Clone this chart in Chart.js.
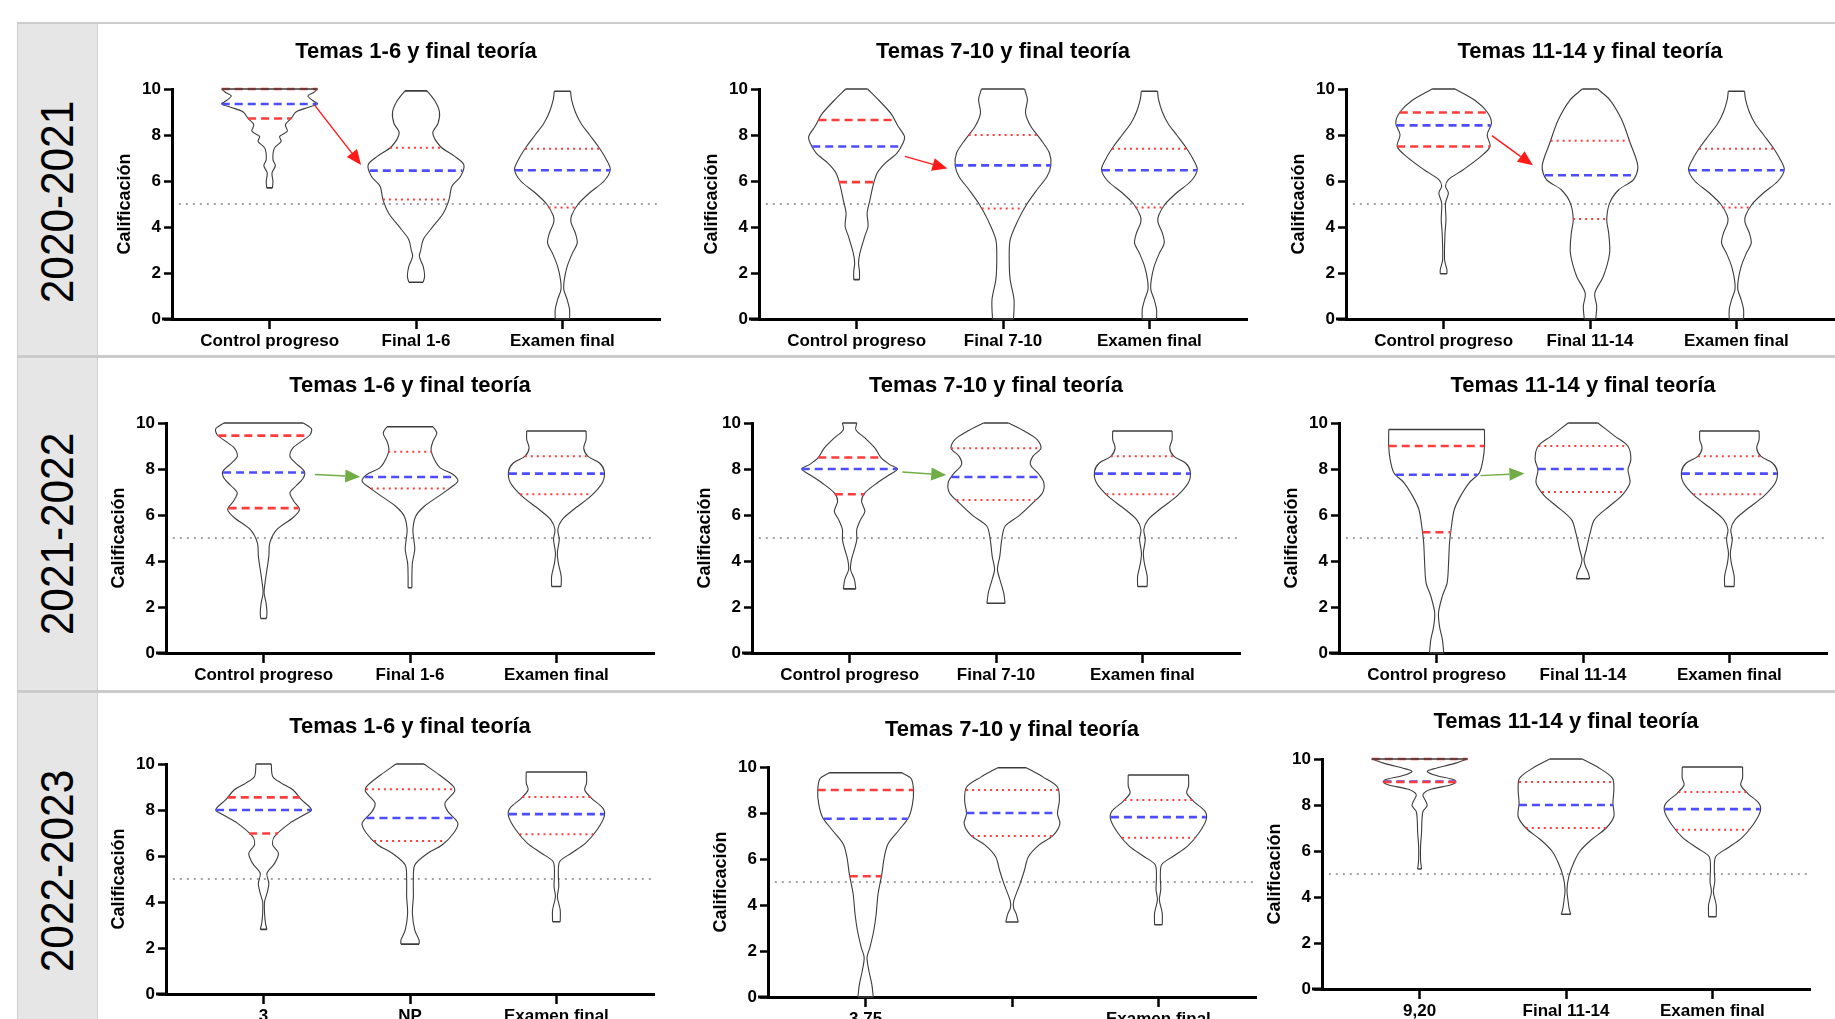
<!DOCTYPE html>
<html lang="es">
<head>
<meta charset="utf-8">
<title>Calificaciones por curso</title>
<script src="https://cdn.jsdelivr.net/npm/chart.js@4.4.1/dist/chart.umd.min.js"></script>
<style>
html,body{margin:0;padding:0;background:#fff;}
body{width:1835px;height:1019px;overflow:hidden;position:relative;font-family:'Liberation Sans',Arial,Helvetica,sans-serif;}
.hline{position:absolute;left:17px;width:1818px;background:#cbcbcb;}
.cell{position:absolute;left:17px;width:81px;background:#e6e6e6;border-left:1px solid #cfcfcf;border-right:1px solid #d2d2d2;box-sizing:border-box;}
.rowlab{position:absolute;left:57px;font-size:46px;color:#000;white-space:nowrap;line-height:1;transform:translate(-50%,-50%) rotate(-90deg) scaleX(0.92);}
canvas{position:absolute;}
</style>
</head>
<body>
<script>
// ---------------- DATA ----------------
const rowLabels = ['2020-2021', '2021-2022', '2022-2023'];
const themeTitles = ['Temas 1-6 y final teoría', 'Temas 7-10 y final teoría', 'Temas 11-14 y final teoría'];
const cats20 = [['Control progreso', 'Final 1-6', 'Examen final'], ['Control progreso', 'Final 7-10', 'Examen final'], ['Control progreso', 'Final 11-14', 'Examen final']];
const cats21 = [['Control progreso', 'Final 1-6', 'Examen final'], ['Control progreso', 'Final 7-10', 'Examen final'], ['Control progreso', 'Final 11-14', 'Examen final']];
const cats22 = [['3', 'NP', 'Examen final'], ['3,75', '', 'Examen final'], ['9,20', 'Final 11-14', 'Examen final']];
const yTicks = [0, 2, 4, 6, 8, 10];
const passMark = 5;
const yAxisTitle = 'Calificación';

// violin profiles: [grade, relative density width]
const y20_c16 = [[5.7,.06],[5.98,.07],[6.35,.05],[6.67,.12],[6.93,.07],[7.43,.1],[7.72,.24],[7.94,.21],[8.16,.37],[8.45,.33],[8.72,.45],[9.0,.55],[9.2,.8],[9.35,1.0],[9.5,.9],[9.7,.8],[9.85,.92],[10,1.0]];
const y20_f16 = [[1.6,.15],[1.86,.18],[2.29,.15],[2.72,.07],[3.0,.1],[3.45,.15],[3.88,.3],[4.6,.57],[5.19,.69],[5.77,.75],[6.2,.93],[6.7,1.0],[7.07,.81],[7.5,.51],[8.09,.35],[8.5,.46],[9.0,.49],[9.5,.39],[9.92,.23]];
const y20_c710 = [[1.71,.06],[2.07,.06],[2.43,.04],[2.87,.07],[3.59,.17],[4.03,.24],[4.61,.22],[5.19,.28],[5.77,.34],[6.35,.43],[6.78,.6],[7.2,.84],[7.65,.97],[7.94,1.0],[8.4,.86],[8.9,.73],[9.5,.47],[10,.23]];
const y20_f710 = [[0,.22],[.84,.23],[1.71,.15],[2.58,.13],[3.45,.15],[4.32,.32],[4.97,.49],[5.62,.71],[6.2,.92],[6.68,1.0],[7.22,.97],[7.8,.79],[8.38,.58],[8.96,.47],[9.54,.51],[10,.45]];
const y20_c1114 = [[1.97,.07],[2.14,.07],[2.58,.02],[3.74,.03],[4.32,.05],[5.04,.04],[5.48,.1],[5.77,.04],[6.06,.1],[6.49,.41],[7.07,.78],[7.5,.97],[8.01,.91],[8.52,1.0],[9.0,.91],[9.5,.66],[10,.24]];
const y20_f1114 = [[0,.12],[.55,.14],[1.13,.1],[1.86,.28],[2.87,.41],[3.74,.39],[4.32,.35],[5.04,.41],[5.62,.6],[6.06,.91],[6.64,1.0],[7.65,.84],[8.67,.66],[9.54,.41],[10,.16]];
const y20_exam = [[0,.15],[.41,.15],[.84,.1],[1.28,.03],[1.71,.04],[2.29,.1],[2.87,.21],[3.3,.31],[3.74,.27],[4.2,.18],[4.49,.19],[5.0,.33],[5.49,.57],[6.0,.87],[6.5,1.0],[7.0,.9],[7.5,.75],[8.0,.57],[8.5,.39],[9.0,.27],[9.55,.19],[9.9,.17]];

const y21_c16 = [[1.5,.06],[1.75,.07],[2.19,.05],[2.62,.01],[3.05,.03],[3.63,.07],[4.21,.11],[4.79,.13],[5.37,.28],[5.88,.61],[6.24,.75],[6.6,.63],[6.96,.55],[7.25,.67],[7.61,.83],[7.9,.85],[8.26,.67],[8.55,.55],[8.91,.61],[9.2,.79],[9.49,.97],[9.75,1.0],[10,.83]];
const y21_f16 = [[2.84,.04],[3.34,.04],[3.92,.05],[4.5,.1],[4.93,.08],[5.37,.06],[5.95,.12],[6.38,.3],[6.82,.6],[7.18,.84],[7.47,1.0],[7.76,.9],[8.05,.63],[8.41,.51],[8.84,.44],[9.2,.48],[9.57,.56],[9.84,.48]];
const y21_c710 = [[2.79,.13],[3.2,.1],[3.63,.02],[4.07,.04],[4.5,.1],[4.93,.15],[5.37,.15],[5.8,.23],[6.16,.32],[6.6,.25],[6.96,.32],[7.4,.58],[7.76,.84],[8.0,1.0],[8.19,.84],[8.48,.66],[8.91,.53],[9.35,.32],[9.71,.13],[10,.15]];
const y21_f710 = [[2.16,.19],[2.62,.16],[3.2,.08],[3.63,.03],[4.21,.08],[4.93,.12],[5.51,.19],[5.95,.47],[6.53,.77],[6.96,.97],[7.4,1.0],[7.76,.9],[8.19,.72],[8.55,.77],[8.91,.94],[9.28,.86],[9.64,.6],[10,.26]];
const y21_c1114 = [[0,.15],[.59,.12],[1.17,.06],[1.75,.04],[2.47,.12],[3.05,.22],[3.92,.25],[4.79,.27],[5.51,.31],[6.24,.37],[6.82,.5],[7.4,.68],[7.83,.89],[8.41,.97],[9.0,1.0],[9.72,1.0]];
const y21_f1114 = [[3.23,.14],[3.49,.11],[3.78,.05],[4.07,.02],[4.5,.07],[5.22,.15],[5.8,.24],[6.38,.55],[6.82,.8],[7.4,.98],[7.97,.94],[8.41,1.0],[8.99,.94],[9.42,.67],[10,.31]];
const y21_exam = [[2.89,.1],[3.34,.1],[3.92,.04],[4.36,.02],[4.93,.06],[5.37,.03],[5.8,.12],[6.24,.36],[6.82,.72],[7.4,.96],[7.9,1.0],[8.26,.9],[8.55,.66],[8.91,.57],[9.28,.62],[9.65,.62]];

const y22_c16 = [[2.81,.07],[3.07,.04],[3.5,.02],[4.01,.02],[4.37,.07],[4.8,.11],[5.25,.07],[5.68,.23],[6.12,.31],[6.48,.19],[6.85,.23],[7.43,.55],[7.79,.85],[8.01,1.0],[8.45,.79],[8.88,.61],[9.17,.37],[9.46,.19],[10,.16]];
const y22_f16 = [[2.17,.19],[2.34,.19],[2.78,.1],[3.5,.05],[4.23,.07],[4.96,.07],[5.61,.1],[6.12,.37],[6.48,.67],[6.99,.91],[7.43,1.0],[7.94,.79],[8.3,.73],[8.8,.93],[9.02,.91],[9.53,.61],[10,.29]];
const y22_c710 = [[0,.16],[.55,.13],[1.13,.07],[1.72,.03],[2.15,.09],[2.88,.17],[3.6,.22],[4.48,.26],[5.35,.34],[6.08,.39],[6.66,.47],[7.24,.69],[7.82,.9],[8.4,.98],[9.0,1.0],[9.5,.95],[9.75,.76]];
const y22_f710 = [[3.26,.13],[3.6,.09],[3.9,.03],[4.2,.04],[4.93,.17],[5.51,.26],[6.09,.34],[6.6,.56],[7.03,.86],[7.53,1.0],[7.97,.95],[8.55,.99],[9.13,.95],[9.56,.65],[9.97,.3]];
const y22_c1114 = [[5.22,.04],[5.62,.02],[6.2,.02],[6.78,.04],[7.36,.05],[7.72,.07],[7.97,.16],[8.2,.12],[8.45,.07],[8.67,.22],[8.88,.66],[9.0,.76],[9.1,.72],[9.28,.35],[9.46,.16],[9.57,.29],[9.8,.72],[10,1.0]];
const y22_f1114 = [[3.25,.1],[3.45,.07],[3.88,.04],[4.32,.02],[4.9,.06],[5.48,.16],[5.99,.29],[6.49,.53],[7.0,.84],[7.5,1.0],[8.09,.98],[8.67,1.0],[9.17,.97],[9.65,.66],[10,.34]];
const y22_exam = [[3.14,.08],[3.65,.08],[4.23,.02],[4.67,.05],[5.25,.04],[5.76,.07],[6.12,.31],[6.56,.61],[7.14,.85],[7.72,1.0],[8.08,.97],[8.52,.73],[8.88,.59],[9.17,.63],[9.65,.63]];

// medians and quartiles [panel][violin]
const median20 = [[9.35, 6.45, 6.47], [7.5, 6.68, 6.47], [8.42, 6.25, 6.47]];
const lowQ20   = [[8.72, 5.2, 4.85], [5.95, 4.8, 4.85], [7.5, 4.35, 4.85]];
const highQ20  = [[10, 7.45, 7.4], [8.65, 8.0, 7.4], [8.98, 7.75, 7.4]];
const median21 = [[7.85, 7.65, 7.8], [8.0, 7.65, 7.8], [7.75, 8.0, 7.8]];
const lowQ21   = [[6.3, 7.15, 6.9], [6.9, 6.65, 6.9], [5.25, 7.0, 6.9]];
const highQ21  = [[9.45, 8.75, 8.55], [8.5, 8.9, 8.55], [9.0, 9.0, 8.55]];
const median22 = [[8.0, 7.65, 7.82], [7.75, 8.0, 7.82], [9.02, 8.0, 7.82]];
const lowQ22   = [[6.98, 6.65, 6.95], [5.25, 7.0, 6.92], [9.0, 7.0, 6.92]];
const highQ22  = [[8.55, 8.9, 8.57], [9.0, 9.0, 8.57], [10, 9.0, 8.57]];

// arrows (data units: x1, y1, x2, y2)
const arrows20 = [[1.31, 9.28, 1.625, 6.7], [1.33, 7.07, 1.62, 6.54], [1.33, 7.97, 1.61, 6.68]];
const arrows21 = [[1.35, 7.76, 1.66, 7.66], [1.36, 7.87, 1.66, 7.74], [1.30, 7.71, 1.60, 7.80]];
const arrows22 = [null, null, null];

// ---------------- ASSEMBLY ----------------
const rows = [
  {cats: cats20, med: median20, lo: lowQ20, hi: highQ20, arrows: arrows20, arrowColor: '#ff1a1a',
   violins: [[y20_c16, y20_f16, y20_exam], [y20_c710, y20_f710, y20_exam], [y20_c1114, y20_f1114, y20_exam]]},
  {cats: cats21, med: median21, lo: lowQ21, hi: highQ21, arrows: arrows21, arrowColor: '#70ad47',
   violins: [[y21_c16, y21_f16, y21_exam], [y21_c710, y21_f710, y21_exam], [y21_c1114, y21_f1114, y21_exam]]},
  {cats: cats22, med: median22, lo: lowQ22, hi: highQ22, arrows: arrows22, arrowColor: '#70ad47',
   violins: [[y22_c16, y22_f16, y22_exam], [y22_c710, y22_f710, y22_exam], [y22_c1114, y22_f1114, y22_exam]]}
];

// layout (pixels)
const axisX = [[172, 759, 1346], [166, 752, 1339], [166, 768, 1322]];
const plotTop = [[89, 89, 89], [423, 423, 423], [764, 767, 759]];
const PLOT_W = 488, PLOT_H = 230, AX_W = 75, PAD_R = 75, TITLE_H = 54, XAX_H = 45;
const MAXW = 0.327, X_MIN = 1 / 3, X_MAX = 3 + 2 / 3, PASS_START = 0.38;
const C_OUT = '#3c3c3c', C_MED = '#4d4dff', C_Q = '#ff3c3c', C_PASS = '#a3a3a3';

// table background
function addDiv(cls, style, text) {
  const d = document.createElement('div');
  d.className = cls;
  Object.assign(d.style, style);
  if (text) d.textContent = text;
  document.body.appendChild(d);
}
addDiv('cell', {top: '24px', height: '331px'});
addDiv('cell', {top: '358px', height: '332px'});
addDiv('cell', {top: '693px', height: '326px'});
addDiv('hline', {top: '22px', height: '2px'});
addDiv('hline', {top: '355px', height: '3px'});
addDiv('hline', {top: '690px', height: '3px'});
const labelCenters = [202, 534, 871];
rowLabels.forEach((t, i) => addDiv('rowlab', {top: labelCenters[i] + 'px'}, t));

Chart.defaults.font.family = "'Liberation Sans', Arial, Helvetica, sans-serif";
Chart.defaults.color = '#000';

function hwAt(prof, g) {
  if (g <= prof[0][0]) return prof[0][1];
  for (let i = 1; i < prof.length; i++) {
    if (g <= prof[i][0]) {
      const [g0, w0] = prof[i - 1], [g1, w1] = prof[i];
      return w0 + (w1 - w0) * (g - g0) / (g1 - g0);
    }
  }
  return prof[prof.length - 1][1];
}
function seg(c, g, hw, color, dash, width, order) {
  return {data: [{x: c - hw * MAXW, y: g}, {x: c + hw * MAXW, y: g}], borderColor: color, borderDash: dash,
    borderWidth: width, borderCapStyle: 'butt', pointRadius: 0, tension: 0, fill: false, order: order, clip: 6};
}
function violinSets(prof, c, med, lo, hi, dashedQ) {
  const base = {borderColor: C_OUT, borderWidth: 1.1, pointRadius: 0, fill: false, order: 3, clip: 6};
  const top = prof[prof.length - 1], bot = prof[0];
  const qDash = dashedQ ? [8, 5] : [2, 4];
  const qW = dashedQ ? 2.6 : 2;
  return [
    Object.assign({}, base, {tension: 0.3, data: prof.map(p => ({x: c + p[1] * MAXW, y: p[0]}))}),
    Object.assign({}, base, {tension: 0.3, data: prof.map(p => ({x: c - p[1] * MAXW, y: p[0]}))}),
    Object.assign({}, base, {tension: 0, spanGaps: false, borderWidth: 1.6, order: 0, data: [
      {x: c - top[1] * MAXW, y: top[0]}, {x: c + top[1] * MAXW, y: top[0]}, {x: c, y: null},
      {x: c - bot[1] * MAXW, y: bot[0]}, {x: c + bot[1] * MAXW, y: bot[0]}]}),
    seg(c, med, hwAt(prof, med), C_MED, [8, 5], 2.6, 2),
    seg(c, lo, hwAt(prof, lo), C_Q, qDash, qW, 1),
    seg(c, hi, hwAt(prof, hi), C_Q, qDash, qW, 1)
  ];
}
function arrowPlugin(a, color) {
  return {
    id: 'arrowDraw',
    afterDatasetsDraw(chart) {
      if (!a) return;
      const xs = chart.scales.x, ys = chart.scales.y, ctx = chart.ctx;
      const x1 = xs.getPixelForValue(a[0]), y1 = ys.getPixelForValue(a[1]);
      const x2 = xs.getPixelForValue(a[2]), y2 = ys.getPixelForValue(a[3]);
      const ang = Math.atan2(y2 - y1, x2 - x1), L = 15, H = 6.5;
      const bx = x2 - L * Math.cos(ang), by = y2 - L * Math.sin(ang);
      ctx.save();
      ctx.strokeStyle = color; ctx.fillStyle = color; ctx.lineWidth = 1.4;
      ctx.beginPath(); ctx.moveTo(x1, y1); ctx.lineTo(bx, by); ctx.stroke();
      ctx.beginPath(); ctx.moveTo(x2, y2);
      ctx.lineTo(bx - H * Math.sin(ang), by + H * Math.cos(ang));
      ctx.lineTo(bx + H * Math.sin(ang), by - H * Math.cos(ang));
      ctx.closePath(); ctx.fill();
      ctx.restore();
    }
  };
}
const axisExt = {
  id: 'axisExt',
  afterDraw(chart) {
    const {ctx, chartArea: a} = chart;
    ctx.save(); ctx.strokeStyle = '#000'; ctx.lineWidth = 3;
    ctx.beginPath(); ctx.moveTo(a.left - 10, a.bottom); ctx.lineTo(a.left, a.bottom); ctx.stroke();
    ctx.restore();
  }
};

rows.forEach((row, r) => {
  for (let p = 0; p < 3; p++) {
    const datasets = [];
    datasets.push({data: [{x: PASS_START, y: passMark}, {x: X_MAX, y: passMark}], borderColor: C_PASS,
      borderDash: [2, 5], borderWidth: 2, pointRadius: 0, tension: 0, fill: false, order: 4});
    row.violins[p].forEach((prof, v) => {
      datasets.push(...violinSets(prof, v + 1, row.med[p][v], row.lo[p][v], row.hi[p][v], v === 0));
    });
    const labels = row.cats[p];
    const W = AX_W + PLOT_W + PAD_R, Hh = TITLE_H + PLOT_H + XAX_H;
    const cv = document.createElement('canvas');
    cv.width = W; cv.height = Hh;
    cv.style.width = W + 'px'; cv.style.height = Hh + 'px';
    cv.style.left = (axisX[r][p] - AX_W) + 'px';
    cv.style.top = (plotTop[r][p] - TITLE_H) + 'px';
    document.body.appendChild(cv);
    new Chart(cv.getContext('2d'), {
      type: 'line',
      data: {datasets},
      options: {
        responsive: false, animation: false, events: [],
        layout: {padding: 0},
        plugins: {
          legend: {display: false}, tooltip: {enabled: false},
          title: {display: true, text: themeTitles[p], font: {size: 22, weight: 'bold'}, color: '#000',
            padding: {top: 4, bottom: 23.6}}
        },
        scales: {
          x: {
            type: 'linear', min: X_MIN, max: X_MAX,
            afterBuildTicks: s => { s.ticks = [1, 2, 3].map(v => ({value: v})); },
            afterFit: s => { s.height = XAX_H; },
            ticks: {callback: v => labels[v - 1], font: {size: 17, weight: 'bold'}, color: '#000',
              padding: 2, maxRotation: 0, autoSkip: false},
            grid: {drawOnChartArea: false, drawTicks: true, tickLength: 10, tickWidth: 2.5, tickColor: '#000', color: '#000'},
            border: {display: true, color: '#000', width: 3}
          },
          y: {
            type: 'linear', position: 'left', min: 0, max: 10,
            afterBuildTicks: s => { s.ticks = yTicks.map(v => ({value: v})); },
            afterFit: s => { s.width = AX_W; },
            ticks: {font: {size: 17, weight: 'bold'}, color: '#000', padding: 3},
            grid: {drawOnChartArea: false, drawTicks: true, tickLength: 8, tickWidth: 2.5, tickColor: '#000', color: '#000'},
            border: {display: true, color: '#000', width: 3},
            title: {display: true, text: yAxisTitle, font: {size: 18, weight: 'bold'}, color: '#000', padding: {top: 17, bottom: 0}}
          },
          ySpacer: {
            type: 'linear', position: 'right', min: 0, max: 10, display: true,
            afterFit: s => { s.width = PAD_R; },
            ticks: {display: false},
            grid: {display: false, drawTicks: false},
            border: {display: false}
          }
        }
      },
      plugins: [arrowPlugin(row.arrows[p], row.arrowColor), axisExt]
    });
  }
});
</script>
</body>
</html>
